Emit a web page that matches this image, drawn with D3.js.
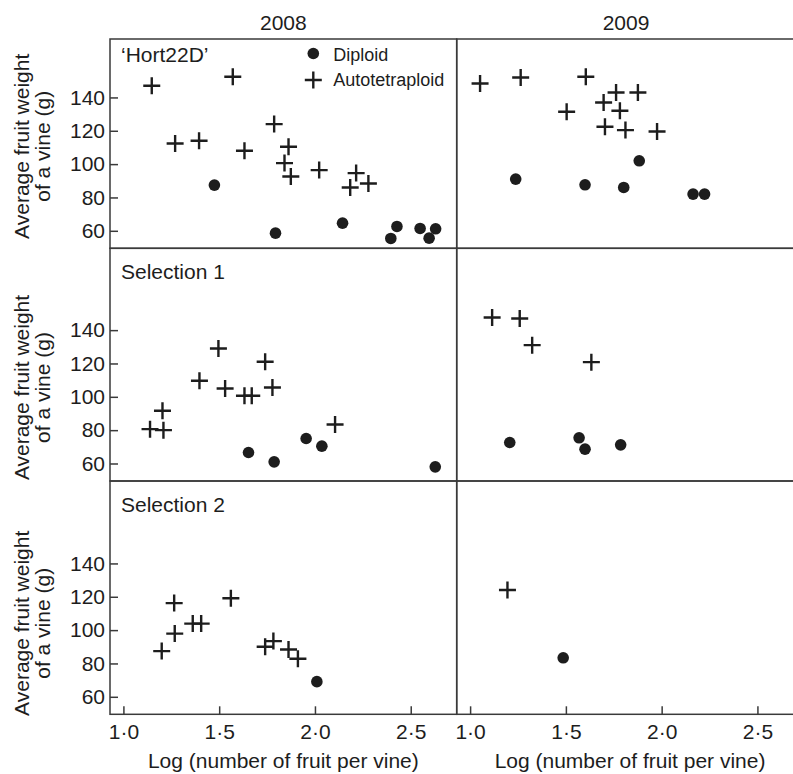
<!DOCTYPE html>
<html>
<head>
<meta charset="utf-8">
<script src="https://cdn.jsdelivr.net/npm/d3@7"></script>
<style>
  body { margin: 0; background: #fff; }
  svg { display: block; }
  svg text { font-family: "Liberation Sans", Arial, Helvetica, sans-serif; }
</style>
</head>
<body>
<svg id="chart" width="793" height="774"></svg>
<script>
// column and row labels
const years = ['2008', '2009'];
const cultivars = ['\u2018Hort22D\u2019', 'Selection 1', 'Selection 2'];
const xTicks = [1.0, 1.5, 2.0, 2.5];
const yTicks = [60, 80, 100, 120, 140];

// [log(number of fruit per vine), average fruit weight (g)]
const hort2008Tetra = [[1.148, 147.0], [1.571, 152.4], [1.270, 112.4], [1.395, 114.0], [1.632, 108.0],
  [1.787, 124.0], [1.862, 110.4], [1.841, 100.6], [1.874, 92.6], [2.022, 96.4], [2.215, 94.6],
  [2.184, 86.0], [2.279, 88.4]];
const hort2008Diploid = [[1.475, 87.4], [1.794, 58.6], [2.144, 64.6], [2.396, 55.4], [2.428, 62.6],
  [2.549, 61.4], [2.596, 55.6], [2.630, 61.2]];
const hort2009Tetra = [[1.052, 148.4], [1.264, 152.0], [1.604, 152.4], [1.504, 131.4], [1.762, 143.0],
  [1.876, 143.0], [1.697, 137.0], [1.782, 132.0], [1.704, 122.4], [1.811, 120.4], [1.976, 119.6]];
const hort2009Diploid = [[1.238, 91.0], [1.600, 87.6], [1.802, 86.0], [1.883, 102.0], [2.164, 82.0], [2.224, 82.0]];

const sel1_2008Tetra = [[1.139, 80.6], [1.209, 80.0], [1.204, 91.6], [1.397, 109.6], [1.496, 129.0],
  [1.531, 105.0], [1.632, 100.6], [1.670, 100.6], [1.740, 121.0], [1.778, 105.6], [2.105, 83.4]];
const sel1_2008Diploid = [[1.653, 66.6], [1.787, 61.0], [1.954, 75.0], [2.036, 70.4], [2.628, 58.0]];
const sel1_2009Tetra = [[1.115, 147.6], [1.259, 147.0], [1.324, 131.0], [1.633, 120.8]];
const sel1_2009Diploid = [[1.207, 72.6], [1.569, 75.4], [1.600, 68.6], [1.786, 71.2]];

const sel2_2008Tetra = [[1.200, 87.4], [1.265, 116.2], [1.268, 97.9], [1.362, 103.9], [1.406, 103.9],
  [1.561, 119.1], [1.740, 90.0], [1.783, 93.4], [1.862, 88.4], [1.911, 82.8]];
const sel2_2008Diploid = [[2.010, 69.1]];
const sel2_2009Tetra = [[1.195, 124.1]];
const sel2_2009Diploid = [[1.486, 83.4]];

const panels = [
  [[hort2008Diploid, hort2008Tetra], [hort2009Diploid, hort2009Tetra]],
  [[sel1_2008Diploid, sel1_2008Tetra], [sel1_2009Diploid, sel1_2009Tetra]],
  [[sel2_2008Diploid, sel2_2008Tetra], [sel2_2009Diploid, sel2_2009Tetra]]
];

const ink = '#1d1d1d';
const lineCol = '#3a3a3a';
const svg = d3.select('#chart');

// layout
const colLeft = [110, 456.7];
const colWidth = 346.7;
const rowTop = [39, 248.3, 481];
const rowBottom = [248.3, 481, 714.3];
const labelLift = [102, 93.5, 91];   // y title centre above row bottom
const yMin = 49.5;
const pxPerUnit = 1.667;

const plus = 'M-8.5,0H8.5M0,-8.5V8.5';

panels.forEach((row, r) => {
  const y = d3.scaleLinear()
    .domain([yMin, yMin + (rowBottom[r] - rowTop[r]) / pxPerUnit])
    .range([rowBottom[r], rowTop[r]]);

  row.forEach((cell, c) => {
    const x = d3.scaleLinear().domain([0.93, 2.74]).range([colLeft[c], colLeft[c] + colWidth]);
    const g = svg.append('g');

    g.append('rect')
      .attr('x', colLeft[c]).attr('y', rowTop[r])
      .attr('width', colWidth).attr('height', rowBottom[r] - rowTop[r])
      .attr('fill', 'none').attr('stroke', lineCol).attr('stroke-width', 1.5);

    if (c === 0) {
      const ax = g.append('g')
        .attr('transform', `translate(${colLeft[c]},0)`)
        .call(d3.axisLeft(y).tickValues(yTicks).tickSizeInner(-8).tickSizeOuter(0).tickPadding(5));
      ax.attr('font-family', null).attr('font-size', null);
      ax.select('.domain').remove();
      ax.selectAll('line').attr('stroke', lineCol).attr('stroke-width', 1.5);
      ax.selectAll('text').attr('font-size', 21).attr('fill', ink);

      g.append('text')
        .attr('transform', `translate(0,${rowBottom[r] - labelLift[r]}) rotate(-90)`)
        .attr('text-anchor', 'middle').attr('font-size', 21).attr('fill', ink)
        .selectAll('tspan')
        .data(['Average fruit weight', 'of a vine (g)'])
        .join('tspan')
        .attr('x', 0)
        .attr('y', (d, i) => 29 + i * 21)
        .text(d => d);

      g.append('text')
        .attr('x', 121).attr('y', rowTop[r] + (r === 0 ? 23 : 31))
        .attr('font-size', 21).attr('fill', ink)
        .text(cultivars[r]);
    }

    if (r === 2) {
      const ax = g.append('g')
        .attr('transform', `translate(0,${rowBottom[r]})`)
        .call(d3.axisBottom(x).tickValues(xTicks).tickSizeInner(-8).tickSizeOuter(0).tickPadding(10)
          .tickFormat(d => d3.format('.1f')(d).replace('.', '\u00b7')));
      ax.attr('font-family', null).attr('font-size', null);
      ax.select('.domain').remove();
      ax.selectAll('line').attr('stroke', lineCol).attr('stroke-width', 1.5);
      ax.selectAll('text').attr('font-size', 21).attr('fill', ink);

      g.append('text')
        .attr('x', colLeft[c] + colWidth / 2).attr('y', 768)
        .attr('text-anchor', 'middle').attr('font-size', 21).attr('fill', ink)
        .text('Log (number of fruit per vine)');
    }

    if (r === 0) {
      g.append('text')
        .attr('x', colLeft[c] + colWidth / 2 - (c === 1 ? 4 : 0)).attr('y', 30)
        .attr('text-anchor', 'middle').attr('font-size', 21).attr('fill', ink)
        .text(years[c]);
    }

    g.selectAll('circle.dip')
      .data(cell[0])
      .join('circle')
      .attr('class', 'dip')
      .attr('cx', d => x(d[0])).attr('cy', d => y(d[1]))
      .attr('r', 5.8).attr('fill', ink);

    g.selectAll('path.tet')
      .data(cell[1])
      .join('path')
      .attr('class', 'tet')
      .attr('transform', d => `translate(${x(d[0])},${y(d[1])})`)
      .attr('d', plus)
      .attr('fill', 'none').attr('stroke', ink).attr('stroke-width', 2.4);
  });
});

// legend
const legend = svg.append('g').attr('transform', 'translate(313.3,0)');
legend.append('circle').attr('cx', 0).attr('cy', 53.5).attr('r', 5.8).attr('fill', ink);
legend.append('path').attr('transform', 'translate(0,80)').attr('d', plus)
  .attr('fill', 'none').attr('stroke', ink).attr('stroke-width', 2.4);
legend.append('text').attr('x', 20).attr('y', 60.5).attr('font-size', 18).attr('fill', ink).text('Diploid');
legend.append('text').attr('x', 20).attr('y', 85.5).attr('font-size', 18).attr('fill', ink).text('Autotetraploid');
</script>
</body>
</html>
